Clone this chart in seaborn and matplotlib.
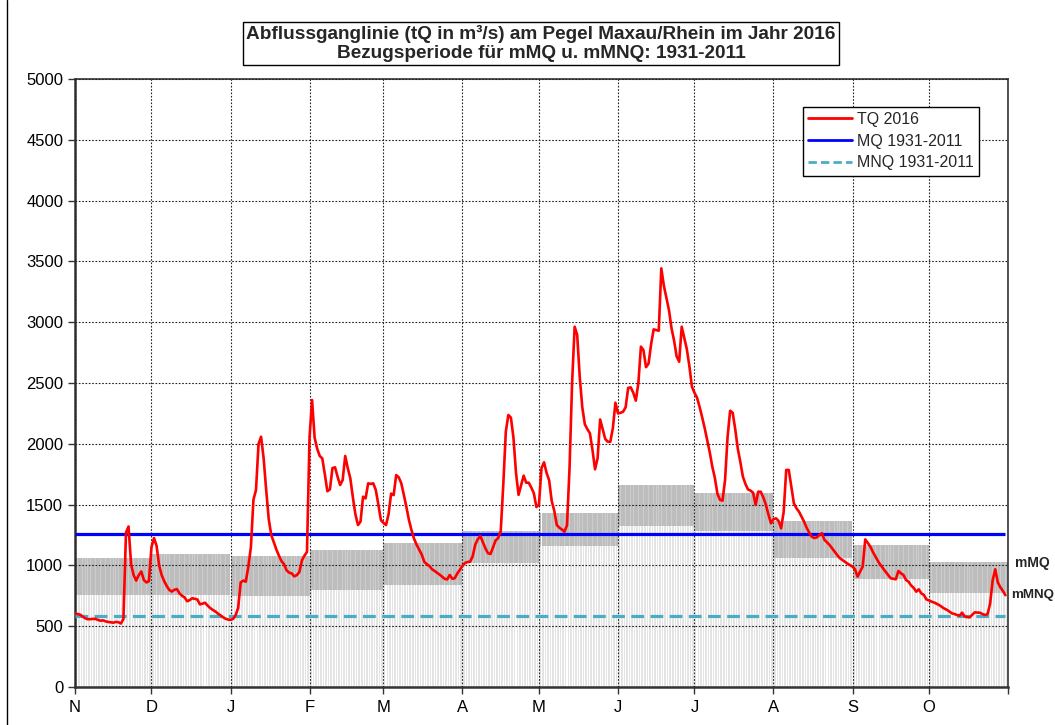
import numpy as np
import pandas as pd
import matplotlib
matplotlib.use('Agg')
import matplotlib.pyplot as plt
from matplotlib.lines import Line2D
import seaborn as sns

# Hydrological year Nov 2015 - Oct 2016
MONTHS = ['N', 'D', 'J', 'F', 'M', 'A', 'M', 'J', 'J', 'A', 'S', 'O']
DAYS_IN_MONTH = [30, 31, 31, 29, 31, 30, 31, 30, 31, 31, 30, 31]

# monthly mean discharge (mMQ) and monthly mean low discharge (mMNQ), 1931-2011
MMQ = [1060, 1090, 1080, 1130, 1185, 1285, 1435, 1660, 1595, 1365, 1170, 1030]
MMNQ = [760, 755, 750, 795, 835, 1020, 1160, 1325, 1285, 1060, 885, 770]

MQ = 1255
MNQ = 585

# daily discharge TQ 2016 (m3/s)
TQ_NOV = [605, 600, 595, 580, 565, 557, 558, 560, 560, 552, 545, 548, 540, 535, 532,
          529, 535, 533, 522, 560, 1270, 1320, 1010, 920, 875, 920, 950, 880, 860, 870]
TQ_DEC = [1150, 1225, 1160, 1000, 920, 870, 830, 798, 785, 800, 805, 770, 750, 737, 705,
          715, 730, 725, 720, 680, 685, 693, 670, 650, 635, 622, 605, 590, 575, 562, 555]
TQ_JAN = [552, 560, 590, 650, 860, 875, 866, 990, 1150, 1540, 1620, 2000, 2058, 1880, 1620,
          1380, 1250, 1190, 1130, 1080, 1035, 1010, 960, 940, 935, 910, 920, 945, 1040, 1080, 1110]
TQ_FEB = [2050, 2360, 2050, 1960, 1900, 1880, 1750, 1610, 1625, 1800, 1807, 1730, 1661, 1702, 1900,
          1800, 1716, 1560, 1420, 1332, 1360, 1565, 1551, 1675, 1670, 1675, 1620, 1500, 1373]
TQ_MAR = [1350, 1332, 1420, 1590, 1578, 1743, 1724, 1675, 1580, 1480, 1373, 1290, 1220, 1170, 1130,
          1090, 1030, 1010, 995, 970, 955, 940, 925, 907, 890, 885, 921, 890, 895, 935, 965]
TQ_APR = [995, 1020, 1028, 1031, 1075, 1170, 1215, 1242, 1190, 1140, 1100, 1094, 1150, 1205, 1225,
          1280, 1660, 2100, 2237, 2215, 2050, 1760, 1580, 1660, 1738, 1680, 1680, 1640, 1593, 1480]
TQ_MAY = [1500, 1800, 1848, 1760, 1700, 1530, 1450, 1332, 1310, 1295, 1277, 1330, 1800, 2500, 2963,
          2895, 2550, 2300, 2160, 2120, 2086, 1949, 1790, 1880, 2200, 2120, 2040, 2017, 2017, 2130, 2338]
TQ_JUN = [2250, 2255, 2264, 2300, 2460, 2464, 2420, 2355, 2500, 2799, 2770, 2630, 2660, 2820, 2941,
          2935, 2930, 3443, 3300, 3200, 3100, 2950, 2850, 2720, 2675, 2963, 2870, 2780, 2640, 2470]
TQ_JUL = [2420, 2380, 2305, 2220, 2130, 2030, 1930, 1812, 1720, 1590, 1540, 1532, 1700, 2058, 2272,
          2255, 2120, 1960, 1850, 1730, 1670, 1625, 1615, 1598, 1497, 1606, 1606, 1560, 1500, 1420, 1346]
TQ_AUG = [1380, 1387, 1365, 1305, 1440, 1785, 1785, 1650, 1511, 1470, 1442, 1400, 1360, 1310, 1270,
          1236, 1225, 1230, 1250, 1264, 1210, 1190, 1168, 1140, 1113, 1085, 1060, 1045, 1031, 1015, 1003]
TQ_SEP = [990, 968, 907, 950, 990, 1214, 1185, 1154, 1110, 1072, 1035, 1003, 975, 948, 920,
          894, 890, 886, 954, 935, 921, 880, 866, 835, 815, 784, 803, 770, 757, 720]
TQ_OCT = [712, 702, 695, 685, 674, 660, 645, 635, 620, 606, 600, 592, 587, 611, 580,
          575, 573, 595, 614, 612, 611, 600, 592, 600, 688, 880, 968, 860, 820, 790, 755]

TQ = (TQ_NOV + TQ_DEC + TQ_JAN + TQ_FEB + TQ_MAR + TQ_APR
      + TQ_MAY + TQ_JUN + TQ_JUL + TQ_AUG + TQ_SEP + TQ_OCT)

sns.set_theme(style='white')
plt.rcParams['font.family'] = ['Liberation Sans', 'DejaVu Sans']

n_days = sum(DAYS_IN_MONTH)
month_starts = np.concatenate([[0], np.cumsum(DAYS_IN_MONTH)])
days = np.arange(n_days)

df = pd.DataFrame({'day': days, 'TQ': TQ})
band_hi = np.repeat(MMQ, DAYS_IN_MONTH)
band_lo = np.repeat(MMNQ, DAYS_IN_MONTH)

fig = plt.figure(figsize=(10.55, 7.25), dpi=100)
ax = fig.add_axes([75 / 1055, 38 / 725, 933 / 1055, 608 / 725])

# daily bars: light below mMNQ, darker band between mMNQ and mMQ
ax.bar(days + 0.5, band_lo, width=0.6, color='#e4e4e4', zorder=1, linewidth=0)
ax.bar(days + 0.5, band_hi - band_lo, bottom=band_lo, width=0.75,
       color='#bdbdbd', zorder=1, linewidth=0)
ax.bar(days + 0.5, band_hi - band_lo, bottom=band_lo, width=1.0,
       color='#cdcdcd', zorder=0.9, linewidth=0)

ax.hlines(MQ, 0, n_days - 1, color='#0000ff', lw=2.3, zorder=3)
ax.hlines(MNQ, 0, n_days - 1, color='#4bacc6', lw=2.3, linestyles=(0, (4, 2)), zorder=3)
sns.lineplot(data=df, x='day', y='TQ', ax=ax, color='#ff0000', lw=1.9, zorder=4)

ax.set_xlim(0, n_days)
ax.set_ylim(0, 5000)
ax.set_yticks(np.arange(0, 5001, 500))
ax.set_xticks(month_starts)
ax.set_xticklabels(MONTHS + [''])
ax.set_xlabel('')
ax.set_ylabel('')
ax.tick_params(axis='both', labelsize=12, length=5, width=1, color='#333333',
               direction='out', bottom=True, left=True, colors='black')
ax.tick_params(axis='x', pad=4)
ax.set_axisbelow(False)
ax.grid(True, color='#222222', linestyle=(0, (1.5, 1.5)), linewidth=0.8)
for side in ax.spines.values():
    side.set_color('#333333')
    side.set_linewidth(1.2)
ax.spines['left'].set_linewidth(1.8)
ax.spines['bottom'].set_linewidth(1.8)

handles = [Line2D([], [], color='#ff0000', lw=2),
           Line2D([], [], color='#0000ff', lw=2),
           Line2D([], [], color='#4bacc6', lw=2, linestyle=(0, (3, 1.5)))]
leg = ax.legend(handles, ['TQ 2016', 'MQ 1931-2011', 'MNQ 1931-2011'],
                loc='upper right', bbox_to_anchor=(0.969, 0.954), borderaxespad=0,
                fontsize=11.5, frameon=True, fancybox=False, handlelength=2.8,
                handletextpad=0.3, labelspacing=0.42, borderpad=0.32)
leg.get_frame().set_edgecolor('black')
leg.get_frame().set_linewidth(1)
leg.get_frame().set_alpha(1)

fig.text(541 / 1055, 1 - 43.5 / 725,
         'Abflussganglinie (tQ in m³/s) am Pegel Maxau/Rhein im Jahr 2016\n'
         'Bezugsperiode für mMQ u. mMNQ: 1931-2011',
         ha='center', va='center', fontsize=13.7, fontweight='bold', linespacing=1.2,
         bbox=dict(facecolor='white', edgecolor='black', boxstyle='square,pad=0.15', lw=1))

fig.text(1015 / 1055, 1 - 563 / 725, 'mMQ', ha='left', va='center',
         fontsize=10, fontweight='bold')
fig.text(1011 / 1055, 1 - 595 / 725, 'mMNQ', ha='left', va='center',
         fontsize=9.6, fontweight='bold')

fig.add_artist(Line2D([7 / 1055, 7 / 1055], [0, 1], transform=fig.transFigure,
                      color='black', lw=1))

fig.savefig('out.png', dpi=100)
plt.close(fig)
